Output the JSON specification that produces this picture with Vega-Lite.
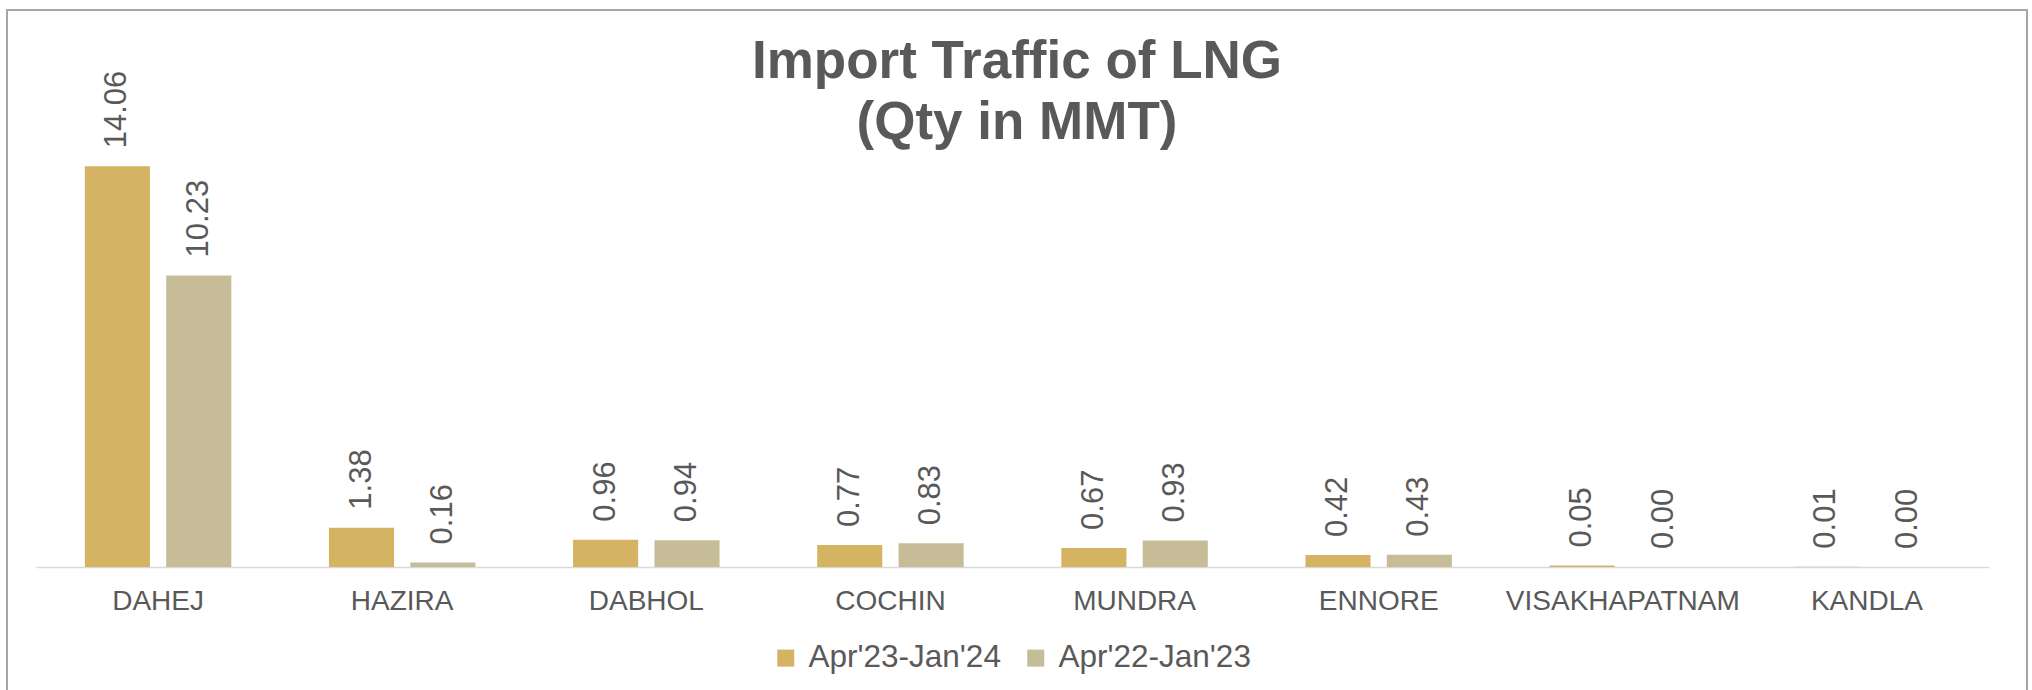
{
  "$schema": "https://vega.github.io/schema/vega-lite/v6.json",
  "autosize": "none",
  "padding": {"left": 7, "top": 10, "right": 5, "bottom": 0},
  "width": 2020,
  "height": 690,
  "background": "white",
  "config": {
    "font": "Liberation Sans",
    "view": {"stroke": "#A6A6A6", "strokeWidth": 2}
  },
  "title": {
    "text": ["Import Traffic of LNG", "(Qty in MMT)"],
    "fontSize": 53,
    "fontWeight": "bold",
    "color": "#595959",
    "font": "Liberation Sans",
    "anchor": "middle",
    "frame": "group",
    "orient": "top",
    "baseline": "alphabetic",
    "lineHeight": 61,
    "offset": -182
  },
  "data": {
    "values": [
      {"port": "DAHEJ", "period": "Apr'23-Jan'24", "qty": 14.06},
      {"port": "DAHEJ", "period": "Apr'22-Jan'23", "qty": 10.23},
      {"port": "HAZIRA", "period": "Apr'23-Jan'24", "qty": 1.38},
      {"port": "HAZIRA", "period": "Apr'22-Jan'23", "qty": 0.16},
      {"port": "DABHOL", "period": "Apr'23-Jan'24", "qty": 0.96},
      {"port": "DABHOL", "period": "Apr'22-Jan'23", "qty": 0.94},
      {"port": "COCHIN", "period": "Apr'23-Jan'24", "qty": 0.77},
      {"port": "COCHIN", "period": "Apr'22-Jan'23", "qty": 0.83},
      {"port": "MUNDRA", "period": "Apr'23-Jan'24", "qty": 0.67},
      {"port": "MUNDRA", "period": "Apr'22-Jan'23", "qty": 0.93},
      {"port": "ENNORE", "period": "Apr'23-Jan'24", "qty": 0.42},
      {"port": "ENNORE", "period": "Apr'22-Jan'23", "qty": 0.43},
      {"port": "VISAKHAPATNAM", "period": "Apr'23-Jan'24", "qty": 0.05},
      {"port": "VISAKHAPATNAM", "period": "Apr'22-Jan'23", "qty": 0.0},
      {"port": "KANDLA", "period": "Apr'23-Jan'24", "qty": 0.01},
      {"port": "KANDLA", "period": "Apr'22-Jan'23", "qty": 0.0}
    ]
  },
  "encoding": {
    "x": {
      "field": "port",
      "type": "nominal",
      "sort": null,
      "scale": {"range": [29, 1982], "paddingInner": 0.4, "paddingOuter": 0.2},
      "axis": {
        "title": null,
        "orient": "bottom",
        "offset": -133,
        "labelAngle": 0,
        "labelFontSize": 28,
        "labelColor": "#595959",
        "labelPadding": 20,
        "labelLimit": 1000,
        "ticks": false,
        "domainColor": "#D9D9D9",
        "domainWidth": 1.5,
        "grid": false
      }
    },
    "xOffset": {
      "field": "period",
      "type": "nominal",
      "scale": {"domain": ["Apr'23-Jan'24", "Apr'22-Jan'23"], "paddingInner": 0.2, "paddingOuter": 0}
    },
    "y": {
      "field": "qty",
      "type": "quantitative",
      "scale": {"domain": [-4.667, 19.544], "nice": false, "zero": false},
      "axis": null
    }
  },
  "layer": [
    {
      "mark": {"type": "bar"},
      "encoding": {
        "y2": {"datum": 0},
        "color": {
          "field": "period",
          "type": "nominal",
          "scale": {"domain": ["Apr'23-Jan'24", "Apr'22-Jan'23"], "range": ["#D4B463", "#C6BD98"]},
          "legend": {
            "title": null,
            "orient": "none",
            "direction": "horizontal",
            "legendX": 763,
            "legendY": 632,
            "symbolType": "square",
            "symbolSize": 289,
            "symbolStrokeWidth": 0,
            "labelFontSize": 31.5,
            "labelColor": "#595959",
            "labelOffset": 7,
            "labelLimit": 1000,
            "columnPadding": 19
          }
        }
      }
    },
    {
      "mark": {"type": "text", "angle": 270, "align": "left", "baseline": "middle", "dx": 18, "fontSize": 31, "color": "#595959"},
      "encoding": {
        "text": {"field": "qty", "type": "quantitative", "format": ".2f"}
      }
    }
  ]
}
